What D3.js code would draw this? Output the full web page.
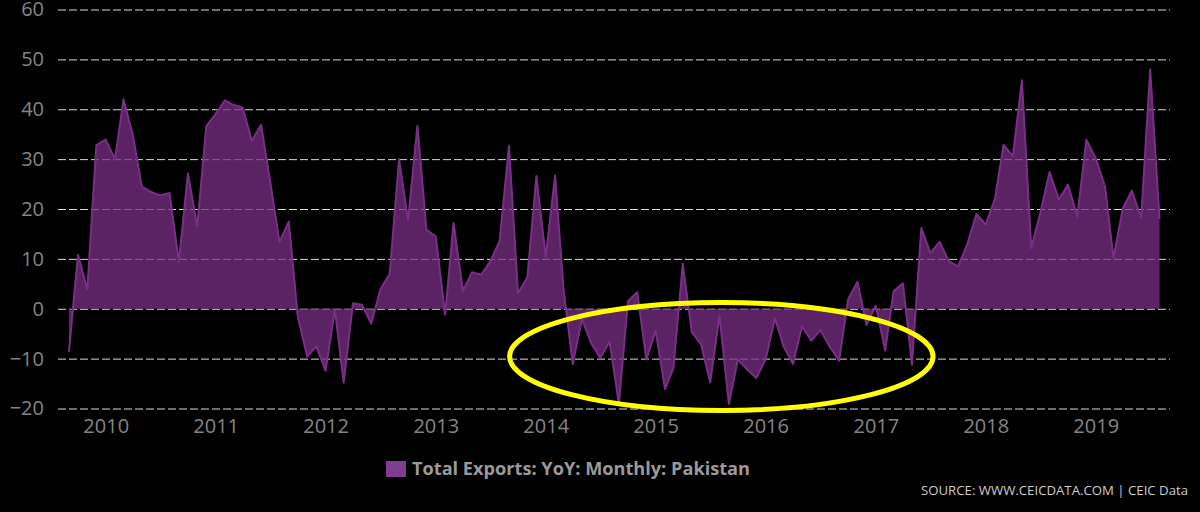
<!DOCTYPE html>
<html>
<head>
<meta charset="utf-8">
<script src="https://cdn.jsdelivr.net/npm/d3@7"></script>
<style>
  html, body { margin: 0; padding: 0; background: #000; }
  svg { display: block; }
</style>
</head>
<body>
<svg id="chart" width="1200" height="512"></svg>
<script>
// ---- data ----
const startMonth = "2009-09";
const seriesName = "Total Exports: YoY: Monthly: Pakistan";
const values = [
  // 2009 Sep-Dec
  -8.6, 10.8, 3.9, 32.8,
  // 2010
  33.9, 30.0, 42.0, 34.9, 24.5, 23.4, 22.7, 23.2, 9.4, 27.1, 16.5, 36.6,
  // 2011
  39.1, 41.8, 40.9, 40.3, 33.7, 36.9, 25.6, 13.4, 17.5, -1.7, -9.6, -7.6,
  // 2012
  -12.4, -0.2, -14.8, 1.1, 0.8, -3.0, 3.9, 7.0, 30.0, 17.7, 36.7, 15.9,
  // 2013
  14.5, -1.2, 17.2, 3.6, 7.3, 6.8, 9.5, 13.6, 32.7, 3.1, 6.3, 26.6,
  // 2014
  10.4, 26.7, 4.0, -11.1, -2.1, -6.9, -9.9, -6.6, -19.1, 1.5, 3.3, -10.2,
  // 2015
  -4.4, -16.1, -11.9, 9.0, -4.7, -7.2, -14.8, -1.4, -19.1, -10.2, -12.2, -13.9,
  // 2016
  -10.2, -1.9, -7.6, -11.1, -3.5, -6.4, -4.3, -7.6, -10.4, 1.9, 5.4, -3.2,
  // 2017
  0.6, -8.4, 3.5, 5.1, -11.2, 16.2, 11.2, 13.4, 9.5, 8.5, 13.0, 19.0,
  // 2018
  16.9, 22.2, 32.9, 30.6, 45.8, 12.2, 19.2, 27.4, 21.9, 24.9, 18.5, 33.9,
  // 2019 Jan-Aug
  30.2, 24.5, 10.2, 20.1, 23.7, 18.2, 48.0, 18.0
];
const yTicks = [-20, -10, 0, 10, 20, 30, 40, 50, 60];
const yearTicks = ["2010","2011","2012","2013","2014","2015","2016","2017","2018","2019"];
const sourceText = "SOURCE: WWW.CEICDATA.COM | CEIC Data";
// highlighted period (annotation ellipse), in data units
const highlightFrom = "2013-09-03", highlightTo = "2017-07-10";
const highlightTop = 1.25, highlightBottom = -20.4;

// ---- build ----
const parseM = d3.timeParse("%Y-%m");
const parseD = d3.timeParse("%Y-%m-%d");
const t0 = parseM(startMonth);
const data = values.map((v, i) => ({ date: d3.timeMonth.offset(t0, i), value: v }));

const svg = d3.select("#chart");
svg.append("rect").attr("width", 1200).attr("height", 512).attr("fill", "#000");

const plotLeft = 58, plotRight = 1170;
const x = d3.scaleTime()
  .domain([new Date(2010, 0, 1), new Date(2019, 0, 1)])
  .range([105.7, 1095.7]);
const y = d3.scaleLinear().domain([-20, 60]).range([408.5, 9.5]);

const fontAxis = "'Open Sans', 'Liberation Sans', sans-serif";

// grid + y labels
const yAxis = d3.axisLeft(y).tickValues(yTicks).tickSize(-(plotRight - plotLeft)).tickPadding(14)
  .tickFormat(d => d < 0 ? "\u2212" + Math.abs(d) : String(d));
const gy = svg.append("g").attr("transform", `translate(${plotLeft},0)`).call(yAxis);
gy.select(".domain").remove();
gy.selectAll(".tick line").attr("stroke", "#d9d9d9").attr("stroke-width", 1).attr("stroke-dasharray", "8,3");
gy.selectAll(".tick text").attr("fill", "#858585").style("font-family", fontAxis).style("font-size", "20px");

// x labels
const xAxis = d3.axisBottom(x)
  .tickValues(yearTicks.map(s => new Date(+s, 0, 1)))
  .tickFormat(d3.timeFormat("%Y")).tickSize(0).tickPadding(10);
const gx = svg.append("g").attr("transform", `translate(0,${408.5})`).call(xAxis);
gx.select(".domain").remove();
gx.selectAll(".tick text").attr("fill", "#858585").style("font-family", fontAxis).style("font-size", "20px");

// area
const color = "#7a2f86";
const area = d3.area().x(d => x(d.date)).y0(y(0)).y1(d => y(d.value));
const line = d3.line().x(d => x(d.date)).y(d => y(d.value));
svg.append("path").datum(data).attr("d", area).attr("fill", color).attr("fill-opacity", 0.75);
svg.append("path").datum(data).attr("d", line).attr("fill", "none").attr("stroke", color).attr("stroke-width", 2).attr("stroke-linejoin", "round");

// annotation ellipse
const ex0 = x(parseD(highlightFrom)), ex1 = x(parseD(highlightTo));
const ey0 = y(highlightTop), ey1 = y(highlightBottom);
svg.append("ellipse")
  .attr("cx", (ex0 + ex1) / 2).attr("cy", (ey0 + ey1) / 2)
  .attr("rx", (ex1 - ex0) / 2).attr("ry", (ey1 - ey0) / 2)
  .attr("fill", "none").attr("stroke", "#ffff00").attr("stroke-width", 5);

// legend
const lg = svg.append("g").attr("transform", "translate(386,461)");
lg.append("rect").attr("width", 20).attr("height", 16).attr("fill", "#803c90");
lg.append("text").attr("x", 26).attr("y", 8).attr("dy", "0.35em")
  .attr("fill", "#9a9a9a").style("font-family", fontAxis).style("font-size", "17px").style("font-weight", "bold")
  .attr("textLength", 338).attr("lengthAdjust", "spacingAndGlyphs")
  .text(seriesName);

// source
svg.append("text").attr("x", 1188).attr("y", 491).attr("dy", "0.35em").attr("text-anchor", "end")
  .attr("fill", "#cccccc").style("font-family", fontAxis).style("font-size", "12px")
  .attr("textLength", 267).attr("lengthAdjust", "spacingAndGlyphs")
  .text(sourceText);
</script>
</body>
</html>
